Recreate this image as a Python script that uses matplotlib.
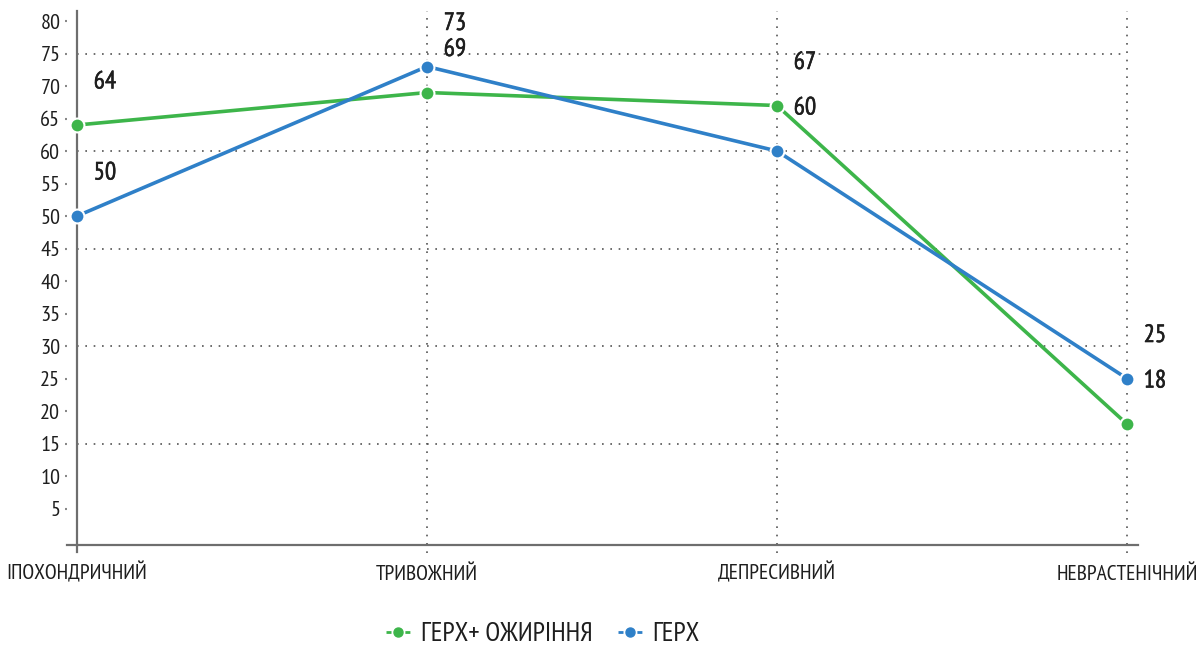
import matplotlib
matplotlib.use("Agg")
import matplotlib.pyplot as plt
from matplotlib.lines import Line2D
from matplotlib import font_manager as fm
from matplotlib.ft2font import FT2Font
import matplotlib.patheffects as pe

categories = ["ІПОХОНДРИЧНИЙ", "ТРИВОЖНИЙ", "ДЕПРЕСИВНИЙ", "НЕВРАСТЕНІЧНИЙ"]
series_names = ["ГЕРХ+ ОЖИРІННЯ", "ГЕРХ"]
gerd_obesity = [64, 69, 67, 18]
gerd = [50, 73, 60, 25]
y_ticks = list(range(5, 85, 5))
grid_levels = [15, 30, 45, 60, 75]

GREEN = "#3DB54A"
BLUE = "#2F80C8"
AXC = "#6e6e6e"
TXT = "#1e1e1e"


def is_cond(f):
    s = (f.fname + " " + f.name).lower()
    return ('condensed' in s or 'narrow' in s or
            f.stretch in ('condensed', 'semi-condensed', 'extra-condensed', 'ultra-condensed'))


def has_cyr(path):
    try:
        cm = FT2Font(path).get_charmap()
        return all(c in cm for c in (0x414, 0x406, 0x416, 0x2B))
    except Exception:
        return False


chosen = None
cands = [f for f in fm.fontManager.ttflist if is_cond(f)
         and f.style == 'normal' and f.weight in (400, 'normal', 'regular')]
cands.sort(key=lambda f: (0 if 'narrow' in f.fname.lower() else 1, f.fname))
for f in cands:
    if has_cyr(f.fname):
        chosen = f.fname
        break


def fp(size):
    if chosen:
        return fm.FontProperties(fname=chosen, size=size)
    return fm.FontProperties(family='Roboto', size=size * 0.85)


fig = plt.figure(figsize=(11.99, 6.46), dpi=100)
W, H = 1199, 646
left, right = 66.5, 1137.5
top, bottom = 11.25, 545
ax = fig.add_axes([left / W, 1 - bottom / H, (right - left) / W, (bottom - top) / H])
ax.set_xlim(-0.03, 3.03)
ax.set_ylim(-0.6, 81.5)
x = list(range(len(categories)))

for s in ax.spines.values():
    s.set_visible(False)
ax.spines['bottom'].set_visible(True)
ax.spines['bottom'].set_color(AXC)
ax.spines['bottom'].set_linewidth(1.6)

ax.plot([0, 0], [-1.6, 81.5], color=AXC, lw=1.6, clip_on=False, zorder=2)

for g in grid_levels:
    ax.plot([0, 3], [g, g], color="#555555", lw=1.2, ls=(0, (1, 4)), zorder=1)
for xi in x[1:]:
    ax.plot([xi, xi], [-1.8, 81.5], color="#555555", lw=1.2, ls=(0, (1, 4)),
            zorder=1, clip_on=False)

ax.plot(x, gerd_obesity, color=GREEN, lw=2.6, marker='o', ms=10,
        mec='white', mew=1.5, zorder=3, solid_capstyle='round')
ax.plot(x, gerd, color=BLUE, lw=2.6, marker='o', ms=10,
        mec='white', mew=1.5, zorder=4, solid_capstyle='round')

bold = [pe.withStroke(linewidth=0.4, foreground=TXT)]
for xi, v in zip(x, gerd_obesity):
    ax.annotate(str(v), (xi, v), xytext=(12, 31), textcoords='offset points',
                ha='left', va='center', fontproperties=fp(18), color=TXT,
                path_effects=bold)
for xi, v in zip(x, gerd):
    ax.annotate(str(v), (xi, v), xytext=(12, 31), textcoords='offset points',
                ha='left', va='center', fontproperties=fp(18), color=TXT,
                path_effects=bold)

ax.set_yticks(y_ticks)
ax.set_yticklabels([str(t) for t in y_ticks], fontproperties=fp(16), color=TXT)
ax.tick_params(axis='y', length=1.5, width=1.5, color="#888888", pad=3)
ax.set_xticks(x)
ax.set_xticklabels([])
ax.tick_params(axis='x', length=0)
for xi, c in zip(x, categories):
    ax.annotate(c, (xi, 0), xycoords=('data', 'axes fraction'), xytext=(0, -25),
                textcoords='offset points', ha='center', va='baseline',
                fontproperties=fp(15.5), color=TXT, annotation_clip=False)

handles = [Line2D([0], [0], color=GREEN, lw=2, ls=(0, (1.8, 5.0)), marker='o', ms=6.5, mec=GREEN),
           Line2D([0], [0], color=BLUE, lw=2, ls=(0, (1.8, 5.0)), marker='o', ms=6.5, mec=BLUE)]
fig.legend(handles, series_names, loc='center', bbox_to_anchor=(543 / W, 1 - 634 / H),
           ncol=2, frameon=False, prop=fp(19.5), handlelength=0.87, handletextpad=0.4,
           columnspacing=0.95, labelcolor=TXT, borderpad=0.2)

fig.savefig("out.png", dpi=100)
